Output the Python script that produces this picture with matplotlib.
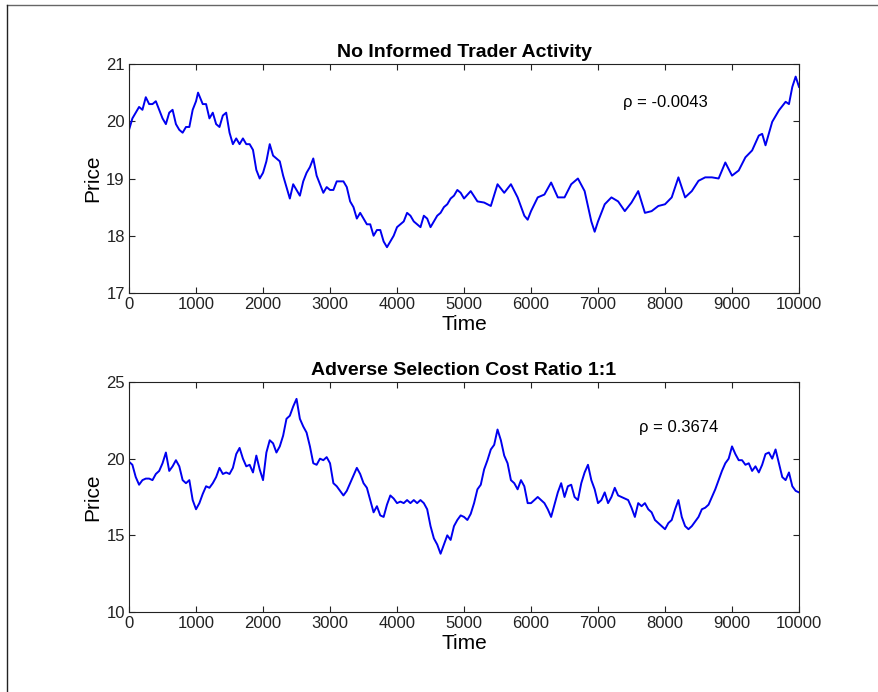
import numpy as np
import matplotlib
matplotlib.use("Agg")
import matplotlib.pyplot as plt
from matplotlib.lines import Line2D

# top panel: no informed trader activity
t_top = [0, 50, 100, 150, 200, 250, 300, 350, 400, 450, 500, 550, 600, 650, 700, 750, 800, 850, 900, 950,
         1000, 1030, 1100, 1150, 1200, 1250, 1300, 1350, 1400, 1450, 1500, 1550, 1600, 1650, 1700, 1750,
         1800, 1850, 1900, 1950, 2000, 2050, 2100, 2150, 2200, 2250, 2300, 2350, 2400, 2450, 2500, 2550,
         2600, 2650, 2700, 2750, 2800, 2850, 2900, 2950, 3000, 3050, 3100, 3150, 3200, 3250, 3300, 3350,
         3400, 3450, 3500, 3550, 3600, 3650, 3700, 3750, 3800, 3850, 3900, 3950, 4000, 4050, 4100, 4150,
         4200, 4250, 4300, 4350, 4400, 4450, 4500, 4550, 4600, 4650, 4700, 4750, 4800, 4850, 4900, 4950,
         5000, 5100, 5200, 5300, 5400, 5500, 5600, 5700, 5800, 5900, 5950, 6000, 6100, 6200, 6300, 6400,
         6500, 6600, 6700, 6800, 6900, 6950, 7000, 7100, 7200, 7300, 7400, 7500, 7600, 7700, 7800, 7900,
         8000, 8100, 8200, 8300, 8400, 8500, 8600, 8700, 8800, 8900, 9000, 9100, 9200, 9300, 9400, 9450,
         9500, 9600, 9700, 9800, 9850, 9900, 9950, 10000]
p_top = [19.85, 20.05, 20.15, 20.25, 20.2, 20.42, 20.3, 20.3, 20.35, 20.2, 20.05, 19.95, 20.15, 20.2, 19.95,
         19.85, 19.8, 19.9, 19.9, 20.2, 20.35, 20.5, 20.3, 20.3, 20.05, 20.15, 19.95, 19.9, 20.1, 20.15,
         19.8, 19.6, 19.7, 19.6, 19.7, 19.6, 19.6, 19.5, 19.15, 19.0, 19.1, 19.3, 19.6, 19.4, 19.35, 19.3,
         19.05, 18.85, 18.65, 18.9, 18.8, 18.7, 18.95, 19.1, 19.2, 19.35, 19.05, 18.9, 18.75, 18.85, 18.8,
         18.8, 18.95, 18.95, 18.95, 18.85, 18.6, 18.5, 18.3, 18.4, 18.3, 18.2, 18.2, 18.0, 18.1, 18.1,
         17.9, 17.8, 17.9, 18.0, 18.15, 18.2, 18.25, 18.4, 18.35, 18.25, 18.2, 18.15, 18.35, 18.3, 18.15,
         18.25, 18.35, 18.4, 18.5, 18.55, 18.65, 18.7, 18.8, 18.75, 18.65, 18.78, 18.6, 18.58, 18.52, 18.9,
         18.75, 18.9, 18.67, 18.35, 18.28, 18.43, 18.67, 18.72, 18.93, 18.67, 18.67, 18.9, 19.0, 18.78,
         18.25, 18.07, 18.25, 18.55, 18.67, 18.6, 18.43, 18.58, 18.78, 18.4, 18.43, 18.52, 18.55, 18.67,
         19.02, 18.67, 18.78, 18.96, 19.02, 19.02, 19.0, 19.28, 19.05, 19.14, 19.37, 19.49, 19.75, 19.78,
         19.58, 19.99, 20.19, 20.34, 20.3, 20.6, 20.78, 20.6]

# bottom panel: adverse selection cost ratio 1:1
t_bot = list(range(0, 10001, 50))
p_bot = [19.8, 19.6, 18.8, 18.3, 18.6, 18.7, 18.7, 18.6, 19.0, 19.2, 19.7, 20.4, 19.2, 19.5, 19.9, 19.5,
         18.6, 18.4, 18.6, 17.3, 16.7, 17.1, 17.7, 18.2, 18.1, 18.4, 18.8, 19.4, 19.0, 19.1, 19.0, 19.4,
         20.3, 20.7, 20.0, 19.5, 19.6, 19.1, 20.2, 19.3, 18.6, 20.4, 21.2, 21.0, 20.4, 20.8, 21.5, 22.6,
         22.8, 23.4, 23.9, 22.6, 22.1, 21.7, 20.8, 19.7, 19.6, 20.0, 19.9, 20.1, 19.7, 18.4, 18.2, 17.9,
         17.6, 17.9, 18.4, 18.9, 19.4, 19.0, 18.4, 18.1, 17.3, 16.5, 16.9, 16.3, 16.2, 17.0, 17.6, 17.4,
         17.1, 17.2, 17.1, 17.3, 17.1, 17.3, 17.1, 17.3, 17.1, 16.7, 15.6, 14.8, 14.4, 13.8, 14.4, 15.0,
         14.7, 15.6, 16.0, 16.3, 16.2, 16.0, 16.4, 17.1, 18.0, 18.3, 19.3, 19.9, 20.6, 20.9, 21.9, 21.2,
         20.2, 19.7, 18.6, 18.4, 18.0, 18.6, 18.2, 17.1, 17.1, 17.3, 17.5, 17.3, 17.1, 16.7, 16.2, 17.0,
         17.8, 18.4, 17.5, 18.2, 18.3, 17.5, 17.3, 18.4, 19.1, 19.6, 18.6, 18.0, 17.1, 17.3, 17.8, 17.1,
         17.5, 18.1, 17.6, 17.5, 17.4, 17.3, 16.8, 16.2, 17.1, 16.9, 17.1, 16.7, 16.5, 16.0, 15.8, 15.6,
         15.4, 15.8, 16.0, 16.7, 17.3, 16.2, 15.6, 15.4, 15.6, 15.9, 16.2, 16.7, 16.8, 17.0, 17.5, 18.0,
         18.6, 19.2, 19.7, 20.0, 20.8, 20.3, 19.9, 19.9, 19.6, 19.7, 19.2, 19.5, 19.1, 19.6, 20.3, 20.4,
         20.0, 20.6, 19.7, 18.8, 18.6, 19.1, 18.2, 17.9, 17.8]

titles = ["No Informed Trader Activity", "Adverse Selection Cost Ratio 1:1"]
rho_labels = ["\u03c1 = -0.0043", "\u03c1 = 0.3674"]
xticks = [0, 1000, 2000, 3000, 4000, 5000, 6000, 7000, 8000, 9000, 10000]
yticks_top = [17, 18, 19, 20, 21]
yticks_bot = [10, 15, 20, 25]

plt.rcParams['font.family'] = ['Liberation Sans', 'DejaVu Sans']

fig = plt.figure(figsize=(8.79, 6.92), dpi=100)
ax1 = fig.add_axes([0.1468, 0.5766, 0.7622, 0.3309])
ax2 = fig.add_axes([0.1468, 0.1156, 0.7622, 0.3324])

panels = [
    (ax1, t_top, p_top, yticks_top, (17, 21), (7373, 20.32)),
    (ax2, t_bot, p_bot, yticks_bot, (10, 25), (7612, 22.0)),
]
for i, (ax, t, p, yt, ylim, rpos) in enumerate(panels):
    ax.plot(t, p, color='#0000f0', lw=1.4)
    ax.set_xlim(0, 10000)
    ax.set_ylim(*ylim)
    ax.set_xticks(xticks)
    ax.set_yticks(yt)
    ax.tick_params(direction='in', length=4, width=0.8, top=True, right=True,
                   labelsize=12, colors='#222222', pad=3)
    ax.set_xlabel("Time", fontsize=15, labelpad=2)
    ax.set_ylabel("Price", fontsize=15, labelpad=3)
    ax.set_title(titles[i], fontsize=14, fontweight='bold', pad=5)
    ax.text(rpos[0], rpos[1], rho_labels[i], fontsize=12, va='center', ha='left')
    for s in ax.spines.values():
        s.set_linewidth(0.8)
        s.set_color('#222222')

# outer frame (top and left only visible)
fig.add_artist(Line2D([7 / 879, 1.0], [1 - 5 / 692, 1 - 5 / 692], transform=fig.transFigure,
                      color='#666666', lw=1))
fig.add_artist(Line2D([7 / 879, 7 / 879], [0.0, 1 - 5 / 692], transform=fig.transFigure,
                      color='#222222', lw=1))

fig.savefig("out.png", dpi=100)
